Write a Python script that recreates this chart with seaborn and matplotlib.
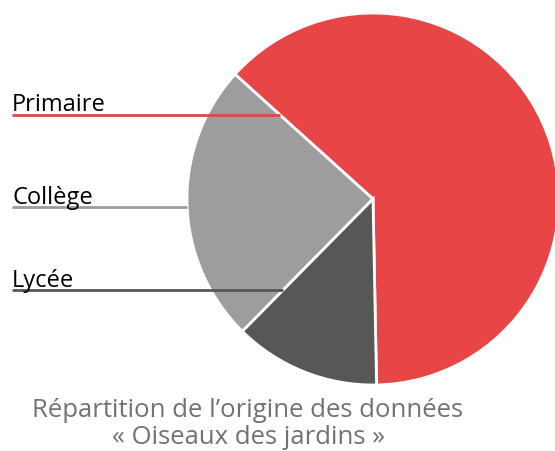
import numpy as np
import matplotlib
matplotlib.use("Agg")
import matplotlib.pyplot as plt
import seaborn as sns

categories = ["Primaire", "Collège", "Lycée"]
values = [63.0, 24.3, 12.7]
colors = ["#E84546", "#9D9D9D", "#575756"]
title_lines = ["Répartition de l\u2019origine des données", "« Oiseaux des jardins »"]

sns.set_theme(style="white")
plt.rcParams["font.family"] = ["Open Sans", "DejaVu Sans"]
palette = sns.color_palette(colors)

W, H = 555, 452
fig = plt.figure(figsize=(W / 100, H / 100), dpi=100)
ax = fig.add_axes([0, 0, 1, 1])

cx, cy, R = 373, H - 200, 186
wedges, _ = ax.pie(values, colors=palette, startangle=271.1, counterclock=True,
                   center=(cx, cy), radius=R, frame=True,
                   wedgeprops=dict(edgecolor="white", linewidth=2))
ax.set_xlim(0, W)
ax.set_ylim(0, H)
ax.set_aspect("equal")
ax.axis("off")

label_y_px = [115.5, 208, 291]
base_y_px = [111, 204, 287]
x0 = 12
for w, name, col, ypx, bpx in zip(wedges, categories, palette, label_y_px, base_y_px):
    y = H - ypx
    dy = y - cy
    xs = np.linspace(cx - R, cx + R, 4000)
    ang = np.degrees(np.arctan2(dy, xs - cx)) % 360
    inside = (xs - cx) ** 2 + dy ** 2 <= R ** 2
    t1, t2 = w.theta1 % 360, w.theta2 % 360
    if t1 <= t2:
        inw = (ang >= t1) & (ang <= t2)
    else:
        inw = (ang >= t1) | (ang <= t2)
    ok = inside & inw
    xend = xs[ok].min() if ok.any() else cx
    ax.plot([x0, xend], [y, y], color=col, lw=2, solid_capstyle="butt", zorder=5)
    ax.text(x0, H - bpx, name, fontsize=17, color="black", ha="left", va="baseline", zorder=6)

ax.text(248, H - 417, title_lines[0], fontsize=18.5, color="#727272", ha="center", va="baseline")
ax.text(248, H - 444, title_lines[1], fontsize=18.5, color="#727272", ha="center", va="baseline")

fig.savefig("out.png", dpi=100)
